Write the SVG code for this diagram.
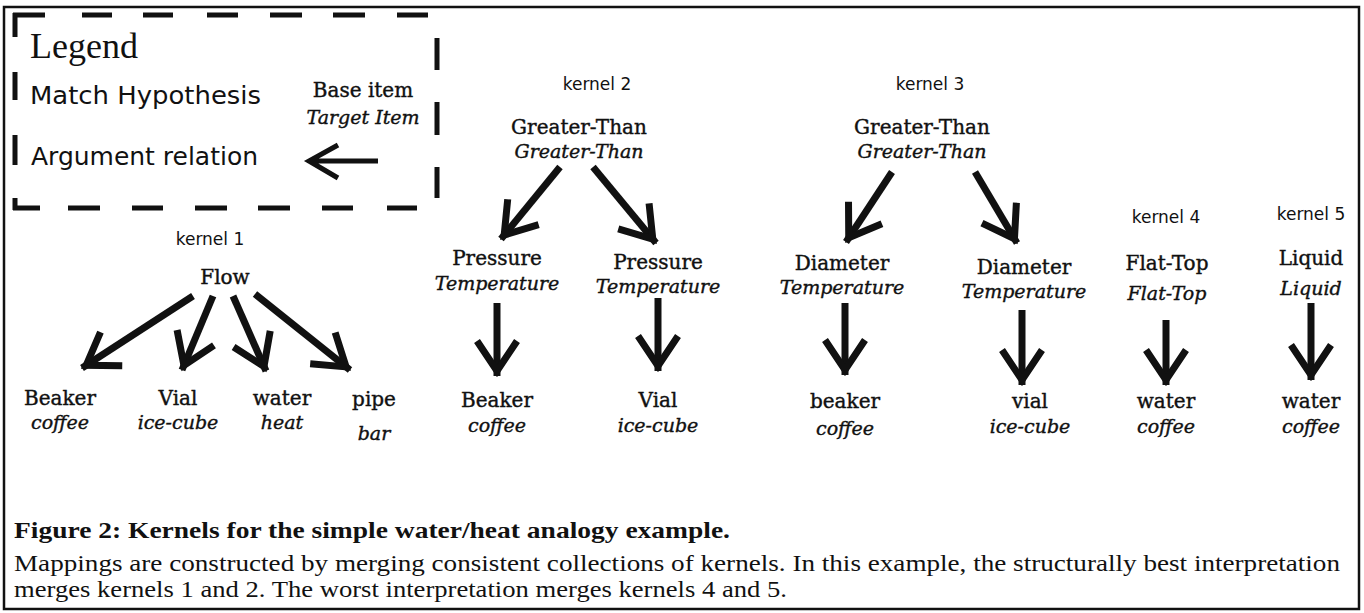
<svg xmlns="http://www.w3.org/2000/svg" width="1364" height="613" viewBox="0 0 1364 613">
<style>
.frame{fill:none;stroke:#111;stroke-width:2.5}
.dash{fill:none;stroke:#111;stroke-width:5;stroke-linecap:butt}
.hand{font-family:"DejaVu Sans","Liberation Sans",sans-serif;fill:#111}
.k{font-family:"DejaVu Sans","Liberation Sans",sans-serif;font-size:17px;fill:#111;text-anchor:middle}
.b{font-family:"DejaVu Serif","Liberation Serif",serif;font-size:20px;fill:#111;stroke:#111;stroke-width:0.4;text-anchor:middle}
.t{font-family:"DejaVu Serif","Liberation Serif",serif;font-size:19px;font-style:italic;fill:#111;stroke:#111;stroke-width:0.4;text-anchor:middle}
.arr{fill:none;stroke:#111;stroke-width:7;stroke-linecap:butt;marker-end:url(#head)}
</style>
<defs>
<marker id="head" markerUnits="userSpaceOnUse" viewBox="-40 -30 50 60" markerWidth="50" markerHeight="60" refX="5" refY="0" orient="auto" overflow="visible">
<path d="M-30,-20 L0,0 L-30,20" fill="none" stroke="#111" stroke-width="7" stroke-linejoin="miter" stroke-miterlimit="10"/>
</marker>
</defs>
<rect x="0" y="0" width="1364" height="613" fill="#fff"/>
<rect class="frame" x="4" y="7" width="1355" height="602"/>

<g id="legend">
<path class="dash" d="M13,15 H45 M15,13 V37 M82,15 H112 M143,15 H173 M207,15 H238 M270,15 H302 M333,15 H365 M397,15 H428 M15,72 V100 M15,135 V165 M15,198 V210 M13,208 H40 M68,208 H100 M132,208 H163 M195,208 H227 M258,208 H290 M322,208 H353 M387,208 H417 M437,38 V70 M437,102 V135 M437,167 V198"/>
<text x="30" y="58" font-family="Liberation Serif,Times New Roman,serif" font-size="36" fill="#111">Legend</text>
<text class="hand" x="30" y="104" font-size="24" textLength="231" lengthAdjust="spacingAndGlyphs">Match Hypothesis</text>
<text class="hand" x="31" y="165" font-size="24" textLength="227" lengthAdjust="spacingAndGlyphs">Argument relation</text>
<text class="b" x="363" y="97">Base item</text>
<text class="t" x="363" y="124">Target Item</text>
<path d="M378,161 H312 M338,145 L309,161 L338,178" fill="none" stroke="#111" stroke-width="5" stroke-linejoin="miter"/>
</g>

<g id="kernel1">
<text class="k" x="210" y="245">kernel 1</text>
<text class="b" x="225" y="284">Flow</text>
</g>
<g id="k1-beaker"><text class="b" x="60" y="405">Beaker</text><text class="t" x="60" y="429">coffee</text></g>
<g id="k1-vial"><text class="b" x="178" y="405">Vial</text><text class="t" x="178" y="429">ice-cube</text></g>
<g id="k1-water"><text class="b" x="282" y="405">water</text><text class="t" x="282" y="429">heat</text></g>
<g id="k1-pipe"><text class="b" x="374" y="406">pipe</text><text class="t" x="374" y="440">bar</text></g>

<g id="kernel2">
<text class="k" x="597" y="90">kernel 2</text>
<text class="b" x="579" y="134">Greater-Than</text>
<text class="t" x="579" y="158">Greater-Than</text>
</g>
<g id="k2-pt1"><text class="b" x="497" y="265">Pressure</text><text class="t" x="497" y="290">Temperature</text></g>
<g id="k2-pt2"><text class="b" x="658" y="269">Pressure</text><text class="t" x="658" y="293">Temperature</text></g>
<g id="k2-beaker"><text class="b" x="497" y="407">Beaker</text><text class="t" x="497" y="432">coffee</text></g>
<g id="k2-vial"><text class="b" x="658" y="407">Vial</text><text class="t" x="658" y="432">ice-cube</text></g>

<g id="kernel3">
<text class="k" x="930" y="90">kernel 3</text>
<text class="b" x="922" y="134">Greater-Than</text>
<text class="t" x="922" y="158">Greater-Than</text>
</g>
<g id="k3-dt1"><text class="b" x="842" y="270">Diameter</text><text class="t" x="842" y="294">Temperature</text></g>
<g id="k3-dt2"><text class="b" x="1024" y="274">Diameter</text><text class="t" x="1024" y="298">Temperature</text></g>
<g id="k3-beaker"><text class="b" x="845" y="408">beaker</text><text class="t" x="845" y="435">coffee</text></g>
<g id="k3-vial"><text class="b" x="1030" y="408">vial</text><text class="t" x="1030" y="433">ice-cube</text></g>

<g id="kernel4">
<text class="k" x="1166" y="223">kernel 4</text>
<text class="b" x="1167" y="270">Flat-Top</text>
<text class="t" x="1167" y="300">Flat-Top</text>
</g>
<g id="k4-water"><text class="b" x="1166" y="408">water</text><text class="t" x="1166" y="433">coffee</text></g>

<g id="kernel5">
<text class="k" x="1311" y="220">kernel 5</text>
<text class="b" x="1311" y="265">Liquid</text>
<text class="t" x="1311" y="295">Liquid</text>
</g>
<g id="k5-water"><text class="b" x="1311" y="408">water</text><text class="t" x="1311" y="433">coffee</text></g>

<g id="connectors">
<line class="arr" x1="193" y1="296" x2="82" y2="368"/>
<line class="arr" x1="213" y1="296" x2="182" y2="370"/>
<line class="arr" x1="233" y1="296" x2="266" y2="371"/>
<line class="arr" x1="255" y1="294" x2="350" y2="370"/>
<line class="arr" x1="560" y1="167" x2="501" y2="239"/>
<line class="arr" x1="593" y1="167" x2="656" y2="243"/>
<line class="arr" x1="497" y1="303" x2="497" y2="376"/>
<line class="arr" x1="658" y1="298" x2="658" y2="371"/>
<line class="arr" x1="892" y1="172" x2="846" y2="242"/>
<line class="arr" x1="975" y1="172" x2="1017" y2="243"/>
<line class="arr" x1="845" y1="303" x2="845" y2="375"/>
<line class="arr" x1="1022" y1="310" x2="1022" y2="385"/>
<line class="arr" x1="1166" y1="320" x2="1166" y2="385"/>
<line class="arr" x1="1311" y1="303" x2="1311" y2="380"/>
</g>

<g id="caption" font-family="Liberation Serif, Times New Roman, serif" font-size="24" fill="#111">
<text x="14" y="538" font-weight="bold" textLength="716" lengthAdjust="spacingAndGlyphs">Figure 2: Kernels for the simple water/heat analogy example.</text>
<text x="14" y="571" textLength="1326" lengthAdjust="spacingAndGlyphs">Mappings are constructed by merging consistent collections of kernels.  In this example, the structurally best interpretation</text>
<text x="14" y="597" textLength="773" lengthAdjust="spacingAndGlyphs">merges kernels 1 and 2.  The worst interpretation merges kernels 4 and 5.</text>
</g>
</svg>
